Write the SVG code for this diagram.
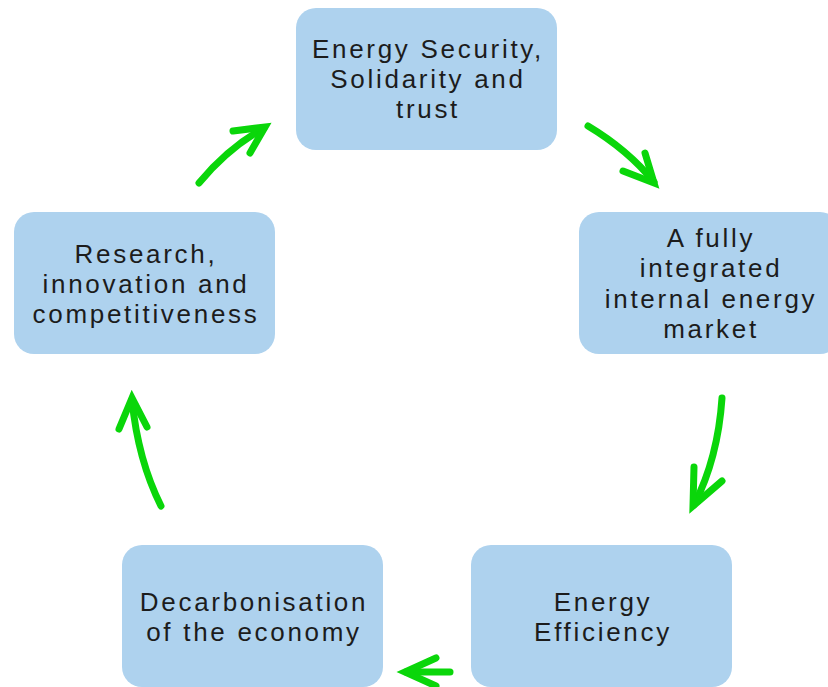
<svg xmlns="http://www.w3.org/2000/svg" width="828" height="687" viewBox="0 0 828 687">
<style>
.box{fill:#aed2ee;}
.t{font-family:"Liberation Sans",Arial,sans-serif;font-size:26px;letter-spacing:2.7px;fill:#1c1c1c;text-anchor:middle;}
.a{fill:none;stroke:#0ad60a;stroke-width:7;stroke-linecap:round;stroke-linejoin:miter;stroke-miterlimit:10;}
</style>
<rect width="828" height="687" fill="#ffffff"/>
<g id="n1"><rect class="box" x="296" y="8" width="261" height="142" rx="20"/>
<text class="t" x="428" y="58">Energy Security,</text>
<text class="t" x="428" y="88">Solidarity and</text>
<text class="t" x="428" y="118">trust</text></g>
<g id="n2"><rect class="box" x="579" y="212" width="261" height="142" rx="20"/>
<text class="t" x="711" y="247">A fully</text>
<text class="t" x="711" y="277">integrated</text>
<text class="t" x="711" y="308">internal energy</text>
<text class="t" x="711" y="338">market</text></g>
<g id="n3"><rect class="box" x="471" y="545" width="261" height="142" rx="20"/>
<text class="t" x="603" y="611">Energy</text>
<text class="t" x="603" y="641">Efficiency</text></g>
<g id="n4"><rect class="box" x="122" y="545" width="261" height="142" rx="20"/>
<text class="t" x="254" y="611">Decarbonisation</text>
<text class="t" x="254" y="641">of the economy</text></g>
<g id="n5"><rect class="box" x="14" y="212" width="261" height="142" rx="20"/>
<text class="t" x="146" y="263">Research,</text>
<text class="t" x="146" y="293">innovation and</text>
<text class="t" x="146" y="323">competitiveness</text></g>
<g id="connectors">
<path class="a" d="M199,183 Q228,148 264,128"/>
<polyline class="a" points="233,131 265,127 250,153"/>
<path class="a" d="M588,126 Q628,150 654,182"/>
<polyline class="a" points="645,153 654,183 623,171"/>
<path class="a" d="M722,398 Q718,458 694,505"/>
<polyline class="a" points="694,467 693,506 722,481"/>
<path class="a" d="M450,672 L406,672"/>
<polyline class="a" points="436,658 405,672 436,686"/>
<path class="a" d="M161,506 Q138,460 132,400"/>
<polyline class="a" points="119,429 132,398 147,427"/>
</g>
</svg>
